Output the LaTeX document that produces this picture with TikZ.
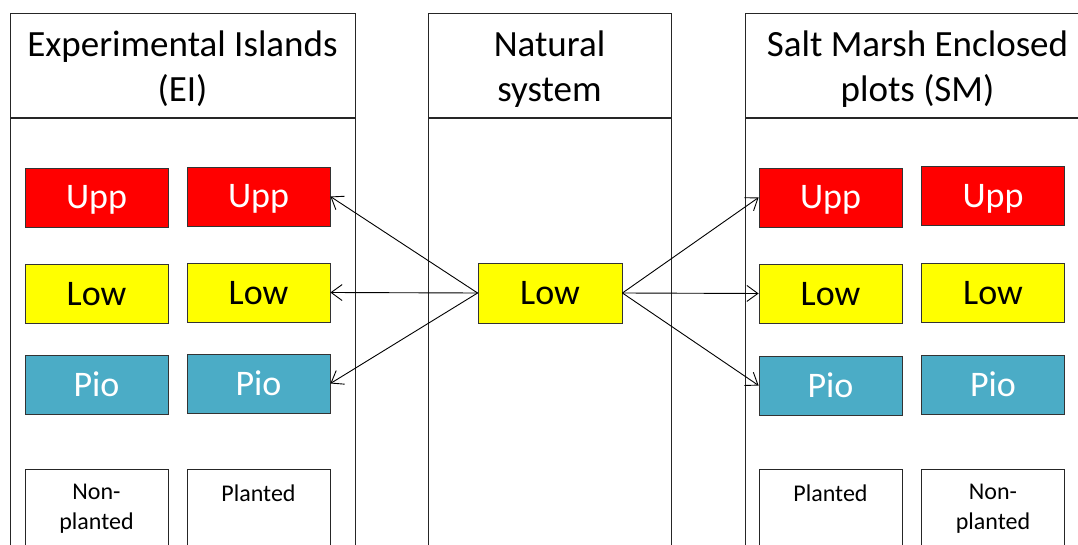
\documentclass[tikz,border=0pt]{standalone}
\usepackage{fontspec}
\setmainfont{Carlito}
\usetikzlibrary{positioning,arrows.meta}
\definecolor{uppred}{HTML}{FF0000}
\definecolor{lowyellow}{HTML}{FFFF00}
\definecolor{pioblue}{HTML}{4BACC6}

\begin{document}
\begin{tikzpicture}[x=1pt, y=-1pt,
    head/.style={rectangle, draw=black!85, line width=1pt, minimum width=345pt, minimum height=104pt, text height=72pt, text depth=0pt, align=center, font=\fontsize{37}{45}\selectfont},
    body/.style={rectangle, draw=black!85, line width=1pt, minimum width=345pt, minimum height=460pt},
    plot/.style={rectangle, draw=black!80, line width=0.8pt, minimum width=143pt, minimum height=59pt, text height=23pt, text depth=0pt, font=\fontsize{36}{43}\selectfont},
    treat/.style={rectangle, draw=black!85, line width=0.8pt, minimum width=143pt, anchor=north, inner ysep=15pt, text depth=70pt, align=center, font=\fontsize{24}{30}\selectfont},
    arrow/.style={-{Straight Barb[length=11pt,width=16pt]}, line width=0.9pt}
]
    \useasboundingbox (0,0) rectangle (1078,545);
    \clip (0,0) rectangle (1078,545);

    % Experimental Islands
    \node[head] (eihead) at (182.5, 66) {Experimental Islands\\(EI)};
    \node[body, below=0pt of eihead] (eibody) {};

    % Natural system
    \node[head, minimum width=243pt] (nshead) at (549.5, 66) {Natural\\system};
    \node[body, minimum width=243pt, below=0pt of nshead] (nsbody) {};

    % Salt Marsh Enclosed plots
    \node[head] (smhead) at (917.5, 66) {Salt Marsh Enclosed\\plots (SM)};
    \node[body, below=0pt of smhead] (smbody) {};

    % EI plots
    \node[plot, fill=uppred, text=white] (eiupp1) at (96.5, 197.5) {Upp};
    \node[plot, fill=uppred, text=white] (eiupp2) at (258.5, 196.5) {Upp};
    \node[plot, fill=lowyellow] (eilow1) at (96.5, 293.5) {Low};
    \node[plot, fill=lowyellow] (eilow2) at (258.5, 292.5) {Low};
    \node[plot, fill=pioblue, text=white] (eipio1) at (96.5, 385) {Pio};
    \node[plot, fill=pioblue, text=white] (eipio2) at (258.5, 383.5) {Pio};
    \node[treat] (eitreat1) at (96.5, 469) {Non-\\planted};
    \node[treat] (eitreat2) at (258.5, 469) {Planted};

    % natural low marsh
    \node[plot, fill=lowyellow, minimum width=144pt, minimum height=60pt] (nlow) at (550, 293) {Low};

    % SM plots
    \node[plot, fill=uppred, text=white] (smupp1) at (830.5, 197.5) {Upp};
    \node[plot, fill=uppred, text=white] (smupp2) at (993, 196) {Upp};
    \node[plot, fill=lowyellow] (smlow1) at (830.5, 293.5) {Low};
    \node[plot, fill=lowyellow] (smlow2) at (993, 292.5) {Low};
    \node[plot, fill=pioblue, text=white] (smpio1) at (830.5, 385.5) {Pio};
    \node[plot, fill=pioblue, text=white] (smpio2) at (993, 384.5) {Pio};
    \node[treat] (smtreat1) at (830.5, 469) {Planted};
    \node[treat] (smtreat2) at (993, 469) {Non-\\planted};

    % transplant arrows
    \draw[arrow] (nlow.west) -- (eiupp2.east);
    \draw[arrow] (nlow.west) -- (eilow2.east);
    \draw[arrow] (nlow.west) -- (eipio2.east);
    \draw[arrow] (nlow.east) -- (smupp1.west);
    \draw[arrow] (nlow.east) -- (smlow1.west);
    \draw[arrow] (nlow.east) -- (smpio1.west);
\end{tikzpicture}
\end{document}
